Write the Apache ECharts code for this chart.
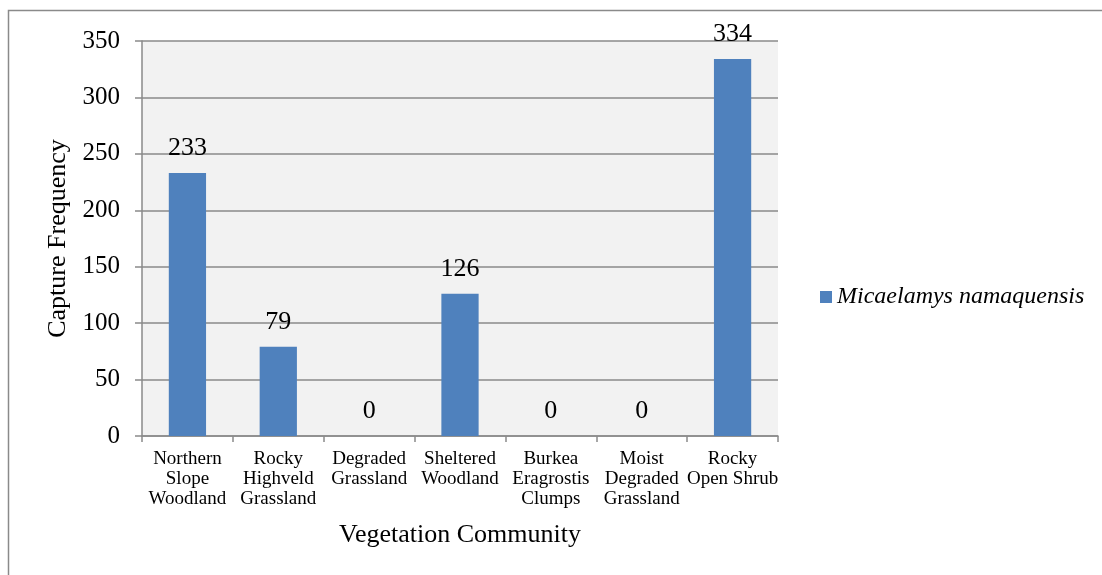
<!DOCTYPE html>
<html>
<head>
<meta charset="utf-8">
<title>Capture Frequency by Vegetation Community</title>
<script src="https://cdn.jsdelivr.net/npm/echarts@6/dist/echarts.min.js"></script>
<style>
  html, body { margin: 0; padding: 0; background: #ffffff; }
  #chart { width: 1102px; height: 575px; }
</style>
</head>
<body>
<div id="chart"></div>
<script>
// Vegetation communities on the category axis
const categories = [
  'Northern\nSlope\nWoodland',
  'Rocky\nHighveld\nGrassland',
  'Degraded\nGrassland',
  'Sheltered\nWoodland',
  'Burkea\nEragrostis\nClumps',
  'Moist\nDegraded\nGrassland',
  'Rocky\nOpen Shrub'
];
// Capture counts per community
const seriesName = 'Micaelamys namaquensis';
const captures = [233, 79, 0, 126, 0, 0, 334];
// Value axis range
const yMin = 0;
const yMax = 350;
const yStep = 50;

const serif = '"Liberation Serif", "Times New Roman", serif';
const chart = echarts.init(document.getElementById('chart'), null, { renderer: 'canvas' });

chart.setOption({
  animation: false,
  backgroundColor: '#ffffff',
  textStyle: { fontFamily: serif, color: '#000000' },
  graphic: [{
    type: 'rect',
    shape: { x: 8.5, y: 10.5, width: 1110, height: 600 },
    style: { fill: 'none', stroke: '#8a8a8a', lineWidth: 1.5 },
    silent: true
  }],
  grid: {
    left: 142, right: 324, top: 41, bottom: 139,
    show: true, backgroundColor: '#f2f2f2', borderWidth: 0
  },
  legend: {
    left: 815, top: 280,
    orient: 'vertical',
    icon: 'rect',
    itemWidth: 12, itemHeight: 12, itemGap: 6,
    textStyle: { fontFamily: serif, fontSize: 24, fontStyle: 'italic', color: '#000000' },
    data: [seriesName]
  },
  xAxis: {
    type: 'category',
    data: categories,
    name: 'Vegetation Community',
    nameLocation: 'middle',
    nameGap: 86,
    nameTextStyle: { fontFamily: serif, fontSize: 26, color: '#000000' },
    axisLine: { show: true, lineStyle: { color: '#8a8a8a', width: 1.5 } },
    axisTick: { show: true, alignWithLabel: false, length: 6, lineStyle: { color: '#8a8a8a', width: 1.5 } },
    axisLabel: {
      interval: 0, margin: 13,
      fontFamily: serif, fontSize: 19, lineHeight: 20, color: '#000000'
    },
    splitLine: { show: false }
  },
  yAxis: {
    type: 'value',
    min: yMin, max: yMax, interval: yStep,
    name: 'Capture Frequency',
    nameLocation: 'middle',
    nameGap: 68,
    nameTextStyle: { fontFamily: serif, fontSize: 26, color: '#000000' },
    axisLine: { show: true, lineStyle: { color: '#8a8a8a', width: 1.5 } },
    axisTick: { show: true, inside: false, length: 7, lineStyle: { color: '#8a8a8a', width: 1.5 } },
    axisLabel: { margin: 22, fontFamily: serif, fontSize: 25, color: '#000000' },
    splitLine: { show: true, lineStyle: { color: '#8a8a8a', width: 1.5 } }
  },
  series: [{
    name: seriesName,
    type: 'bar',
    data: captures,
    barCategoryGap: '59%',
    itemStyle: { color: '#4f81bd', borderWidth: 0 },
    label: {
      show: true, position: 'top', distance: 12,
      fontFamily: serif, fontSize: 26, color: '#000000'
    }
  }]
});
</script>
</body>
</html>
